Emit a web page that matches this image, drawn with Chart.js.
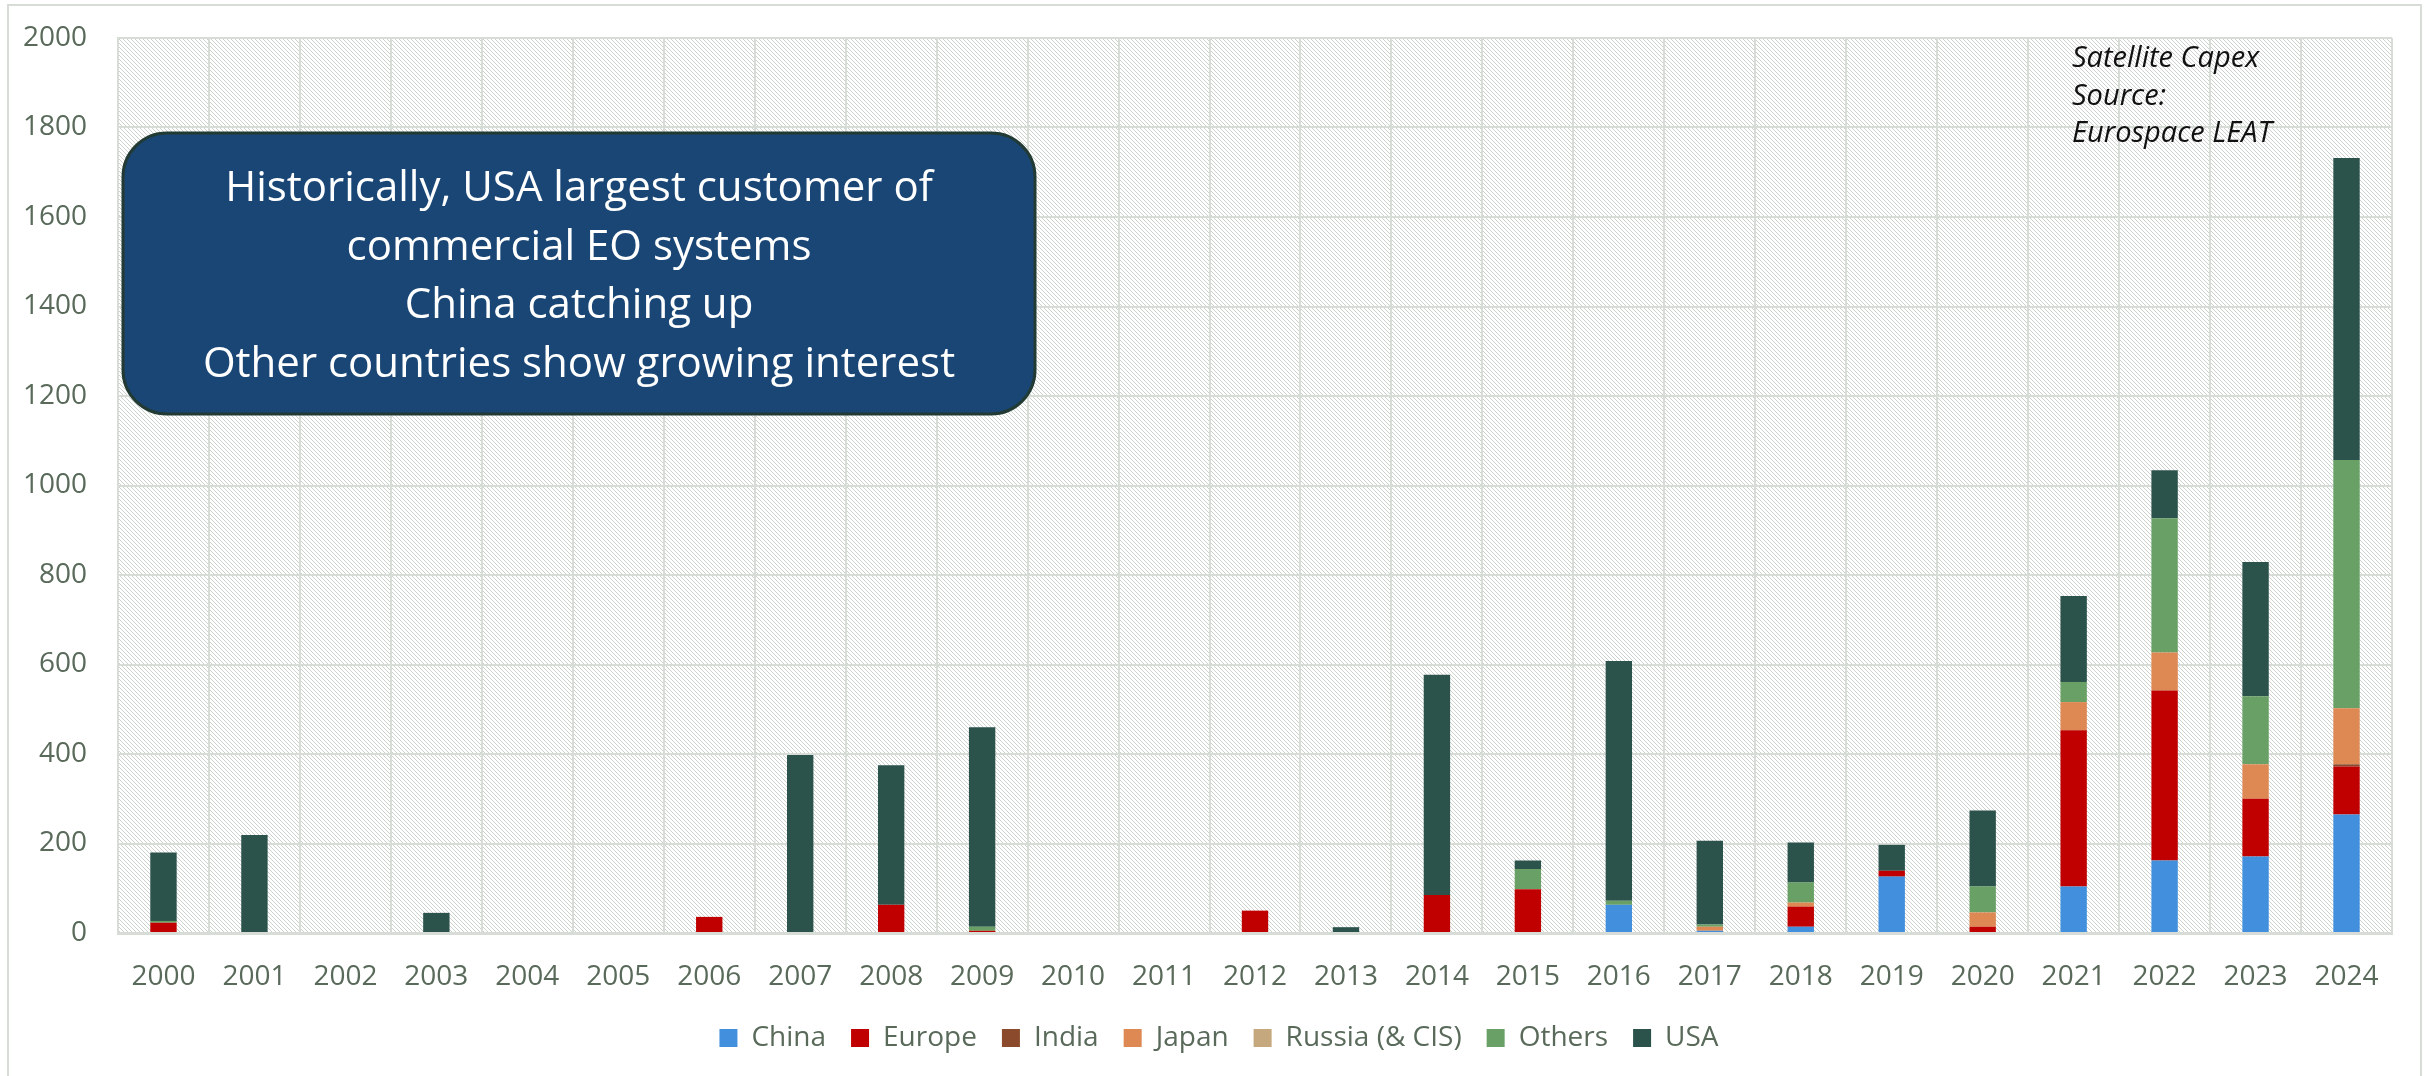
<!DOCTYPE html>
<html>
<head>
<meta charset="utf-8">
<title>Satellite Capex by customer</title>
<script src="https://cdn.jsdelivr.net/npm/chart.js@4.4.1/dist/chart.umd.min.js"></script>
<style>
  html, body { margin: 0; padding: 0; background: #fff; }
  canvas { display: block; }
</style>
</head>
<body>
<canvas id="capex-chart" width="2433" height="1076"></canvas>
<script>
// Yearly satellite capex per customer region
const years = ['2000', '2001', '2002', '2003', '2004', '2005', '2006', '2007', '2008', '2009', '2010', '2011', '2012',
    '2013', '2014', '2015', '2016', '2017', '2018', '2019', '2020', '2021', '2022', '2023', '2024'];
const china  = [0, 0, 0, 0, 0, 0, 0, 0, 0, 0, 0, 0, 0, 0, 0, 0, 63, 5, 14, 126, 0, 104, 162, 171, 265];
const europe = [23, 0, 0, 0, 0, 0, 36, 0, 63, 5, 0, 0, 50, 0, 85, 98, 0, 0, 45, 13, 14, 349, 380, 129, 107];
const india  = [0, 0, 0, 0, 0, 0, 0, 0, 0, 0, 0, 0, 0, 0, 0, 0, 0, 0, 0, 0, 0, 0, 0, 0, 5];
const japan  = [0, 0, 0, 0, 0, 0, 0, 0, 0, 0, 0, 0, 0, 0, 0, 0, 0, 9, 9, 0, 32, 63, 85, 77, 125];
const russia = [0, 0, 0, 0, 0, 0, 0, 0, 0, 0, 0, 0, 0, 0, 0, 0, 0, 0, 0, 0, 0, 0, 0, 0, 0];
const others = [4, 0, 0, 0, 0, 0, 0, 0, 0, 9, 0, 0, 0, 0, 0, 45, 9, 5, 45, 0, 58, 45, 300, 152, 555];
const usa    = [153, 219, 0, 45, 0, 0, 0, 398, 312, 446, 0, 0, 0, 13, 492, 19, 536, 187, 89, 58, 170, 192, 107, 300, 675];

const yMax = 2000;
const yStep = 200;

const noteLines = ['Historically, USA largest customer of', 'commercial EO systems', 'China catching up',
    'Other countries show growing interest'];
const sourceLines = ['Satellite Capex', 'Source:', 'Eurospace LEAT'];

const FONT = '"Open Sans", "Noto Sans", sans-serif';
const TEXT_GREY = '#596a5a';
const GRID_GREY = '#d8dcd7';

// light diagonal hatch used behind the bars
function makeHatch() {
    const tile = document.createElement('canvas');
    tile.width = 4;
    tile.height = 4;
    const t = tile.getContext('2d');
    t.fillStyle = '#ffffff';
    t.fillRect(0, 0, 4, 4);
    t.fillStyle = '#cbd1cb';
    for (let i = 0; i < 4; i++) t.fillRect(i, i, 1, 1);
    return tile;
}

const backdrop = {
    id: 'backdrop',
    afterLayout(chart) {
        // legend sits centred on the outer frame rather than the padded box
        chart.legend.left += 19;
        chart.legend.right += 19;
    },
    beforeDraw(chart) {
        const { ctx, chartArea: a } = chart;
        ctx.save();
        ctx.fillStyle = '#fff';
        ctx.fillRect(0, 0, chart.width, chart.height);
        // outer frame of the chart object
        ctx.strokeStyle = GRID_GREY;
        ctx.lineWidth = 2;
        ctx.strokeRect(8, 5, 2413, chart.height + 20);
        ctx.fillStyle = ctx.createPattern(makeHatch(), 'repeat');
        ctx.fillRect(a.left, a.top, a.right - a.left, a.bottom - a.top);
        ctx.restore();
    },
    afterDraw(chart) {
        const { ctx, chartArea: a } = chart;
        ctx.save();

        // callout box, top left
        const bx = a.left + 5, by = a.top + 95, bw = 912, bh = 281, r = 44;
        ctx.beginPath();
        ctx.roundRect(bx, by, bw, bh, r);
        ctx.fillStyle = '#1a4675';
        ctx.fill();
        ctx.lineWidth = 3;
        ctx.strokeStyle = '#223a34';
        ctx.stroke();

        ctx.fillStyle = '#ffffff';
        ctx.font = '42px ' + FONT;
        ctx.textAlign = 'center';
        ctx.textBaseline = 'alphabetic';
        noteLines.forEach((line, i) => {
            ctx.fillText(line, bx + bw / 2, a.top + 163 + i * 58.5);
        });

        // source note, top right
        ctx.fillStyle = '#111';
        ctx.font = 'italic 29px ' + FONT;
        ctx.textAlign = 'left';
        sourceLines.forEach((line, i) => {
            ctx.fillText(line, 2072, 67 + i * 37.5);
        });
        ctx.restore();
    }
};

const ds = (label, data, color) => ({
    label,
    data,
    backgroundColor: color,
    borderWidth: 0,
    barPercentage: 0.29,
    categoryPercentage: 1
});

new Chart(document.getElementById('capex-chart'), {
    type: 'bar',
    data: {
        labels: years,
        datasets: [
            ds('China', china, '#4290dd'),
            ds('Europe', europe, '#c00000'),
            ds('India', india, '#8a4a2b'),
            ds('Japan', japan, '#de8853'),
            ds('Russia (& CIS)', russia, '#c5a87e'),
            ds('Others', others, '#68a066'),
            ds('USA', usa, '#2c524c')
        ]
    },
    options: {
        responsive: false,
        animation: false,
        layout: { padding: { top: 38, left: 8, right: 41, bottom: 14 } },
        scales: {
            x: {
                stacked: true,
                grid: { color: GRID_GREY, lineWidth: 2, drawTicks: false, offset: true },
                border: { color: GRID_GREY, width: 3 },
                ticks: { color: TEXT_GREY, font: { family: FONT, size: 28 }, padding: 27, maxRotation: 0 },
                afterFit: (scale) => { scale.height = 66; }
            },
            y: {
                stacked: true,
                min: 0,
                max: yMax,
                grid: { color: GRID_GREY, lineWidth: 2, drawTicks: false },
                border: { color: GRID_GREY, width: 2 },
                ticks: {
                    stepSize: yStep,
                    color: TEXT_GREY,
                    font: { family: FONT, size: 28 },
                    padding: 31,
                    callback: (value) => String(value)
                },
                afterFit: (scale) => {
                    scale.width = 110;
                    // tick padding would otherwise push the plot top down
                    scale.paddingTop = 0;
                    scale.paddingBottom = 0;
                }
            }
        },
        plugins: {
            legend: {
                position: 'bottom',
                labels: {
                    color: TEXT_GREY,
                    font: { family: FONT, size: 28 },
                    boxWidth: 18,
                    boxHeight: 18,
                    padding: 25
                }
            },
            tooltip: { enabled: false }
        }
    },
    plugins: [backdrop]
});
</script>
</body>
</html>
